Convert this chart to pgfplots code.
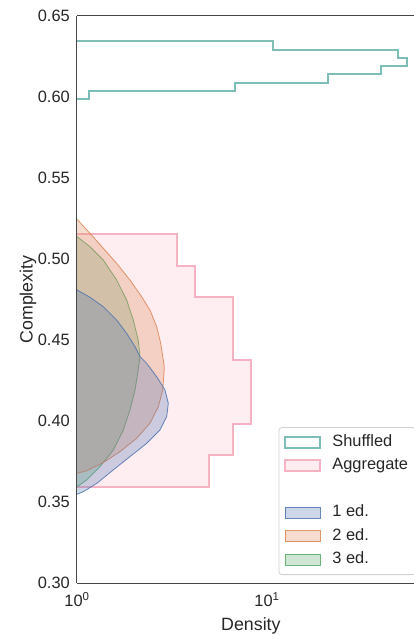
\documentclass[border=0pt]{standalone}
\usepackage{fontspec}
\setmainfont{Liberation Sans}
\usepackage{pgfplots}
\pgfplotsset{compat=1.18}
\usetikzlibrary{calc}
\definecolor{shuf}{RGB}{125,190,184}
\definecolor{aggedge}{RGB}{246,178,194}
\definecolor{aggfill}{RGB}{254,237,241}
\definecolor{cblue}{RGB}{76,114,176}
\definecolor{corange}{RGB}{221,132,82}
\definecolor{cgreen}{RGB}{85,168,104}
\definecolor{spine}{RGB}{70,70,70}
\begin{document}
\begin{tikzpicture}
\pgfplotsset{
  kdeblue/.style={fill=cblue, fill opacity=0.28, draw=cblue, draw opacity=0.85, line width=0.8pt},
  kdeorange/.style={fill=corange, fill opacity=0.28, draw=corange, draw opacity=0.85, line width=0.8pt},
  kdegreen/.style={fill=cgreen, fill opacity=0.28, draw=cgreen, draw opacity=0.85, line width=0.8pt},
}
\begin{axis}[
  scale only axis, width=337pt, height=567pt,
  xmode=log, xmin=1, xmax=59.4, ymin=0.30, ymax=0.65,
  axis lines*=left, axis line style={spine, line width=1pt},
  axis on top,
  xtick={1,10}, xticklabels={10\textsuperscript{0},10\textsuperscript{1}},
  minor xtick={},
  ytick={0.30,0.35,0.40,0.45,0.50,0.55,0.60,0.65},
  yticklabels={0.30,0.35,0.40,0.45,0.50,0.55,0.60,0.65},
  major tick length=0pt, minor tick length=0pt,
  tick label style={font=\fontsize{16.4}{19}\selectfont, text=black!85},
  yticklabel style={inner sep=0pt, anchor=east, xshift=-7pt},
  xticklabel style={inner sep=0pt, anchor=north, yshift=-9pt},
  xlabel={Density}, ylabel={Complexity},
  label style={font=\fontsize{17.8}{21}\selectfont, text=black!85},
  xlabel style={at={(axis description cs:0.516,0)}, anchor=base, yshift=-47.7pt},
  ylabel style={at={(axis description cs:0,0.5)}, anchor=base, yshift=44.3pt},
  legend image code/.code={\draw[sharp corners,#1] (0pt,-5.5pt) rectangle (35pt,5.5pt);},
  legend cell align=left,
  legend style={at={(rel axis cs:1,0)}, anchor=south east, xshift=2pt, yshift=8pt,
    draw=black!18, fill=white, rounded corners=3pt, line width=0.8pt,
    font=\fontsize{16.4}{19}\selectfont, text=black!85,
    inner xsep=5.5pt, inner ysep=3pt,
    nodes={text height=12pt, text depth=4pt, inner ysep=3.75pt, inner xsep=2pt},
    /tikz/every odd column/.append style={column sep=9pt}},
]
\coordinate (sw) at (rel axis cs:0,0);
\coordinate (nw) at (rel axis cs:0,1);
\coordinate (ne) at (rel axis cs:1,1);

% Shuffled histogram (step)
\addplot[draw=shuf, line width=2pt] coordinates {
 (0.5,0.5986) (1.16,0.5986) (1.16,0.6037) (6.79,0.6037) (6.79,0.6088) (20.9,0.6088)
 (20.9,0.6139) (39.8,0.6139) (39.8,0.6191) (54.3,0.6191) (54.3,0.6242) (48.7,0.6242)
 (48.7,0.6293) (10.8,0.6293) (10.8,0.6344) (0.5,0.6344)
};
\addlegendentry{Shuffled}

% Aggregate histogram (filled step)
\addplot[draw=aggedge, fill=aggfill, line width=2pt] coordinates {
 (0.5,0.3594) (4.95,0.3594) (4.95,0.3789) (6.60,0.3789) (6.60,0.3984) (8.24,0.3984)
 (8.24,0.4374) (6.60,0.4374) (6.60,0.4764) (4.18,0.4764) (4.18,0.4959) (3.35,0.4959)
 (3.35,0.5154) (0.5,0.5154)
};
\addlegendentry{Aggregate}

% 3 ed.
\addplot[kdegreen, forget plot] coordinates {
 (0.01,0.523) (0.8,0.5226) (1.00,0.5138) (1.17,0.5076) (1.375,0.4994) (1.618,0.4870)
 (1.826,0.4747) (1.979,0.4623) (2.10,0.4500) (2.146,0.4397) (2.10,0.4315) (2.02,0.4191)
 (1.90,0.4068) (1.753,0.3944) (1.553,0.3821) (1.32,0.3718) (1.125,0.3636) (1.00,0.3594)
 (0.8,0.3514) (0.01,0.351)
};
% 2 ed.
\addplot[kdeorange, forget plot] coordinates {
 (0.01,0.537) (0.8,0.5368) (1.00,0.5245) (1.17,0.5159) (1.375,0.5066) (1.618,0.4973)
 (1.90,0.4870) (2.19,0.4767) (2.42,0.4685) (2.628,0.4582) (2.757,0.4480) (2.846,0.4377)
 (2.88,0.4335) (2.87,0.4294) (2.825,0.4191) (2.68,0.4088) (2.42,0.3986) (2.06,0.3893)
 (1.684,0.3811) (1.375,0.3743) (1.125,0.3693) (1.00,0.3677) (0.8,0.3647) (0.01,0.364)
};
% 1 ed.
\addplot[kdeblue, forget plot] coordinates {
 (0.01,0.488) (0.8,0.4870) (1.00,0.4809) (1.17,0.4764) (1.375,0.4706) (1.618,0.4623)
 (1.826,0.4541) (2.02,0.4459) (2.146,0.4397) (2.327,0.4356) (2.628,0.4273) (2.905,0.4191)
 (3.024,0.4109) (2.966,0.4027) (2.734,0.3944) (2.327,0.3862) (1.90,0.3780) (1.553,0.3698)
 (1.27,0.3615) (1.08,0.3564) (1.00,0.3548) (0.8,0.3520) (0.01,0.351)
};

\addlegendimage{empty legend}
\addlegendentry{}
\addlegendimage{kdeblue}
\addlegendentry{1 ed.}
\addlegendimage{kdeorange}
\addlegendentry{2 ed.}
\addlegendimage{kdegreen}
\addlegendentry{3 ed.}
\end{axis}
\draw[spine, line width=1pt] (nw) -- (ne);
\pgfresetboundingbox
\path[use as bounding box] ($(sw)+(-77pt,-53pt)$) rectangle ($(ne)+(0pt,16pt)$);
\end{tikzpicture}
\end{document}
